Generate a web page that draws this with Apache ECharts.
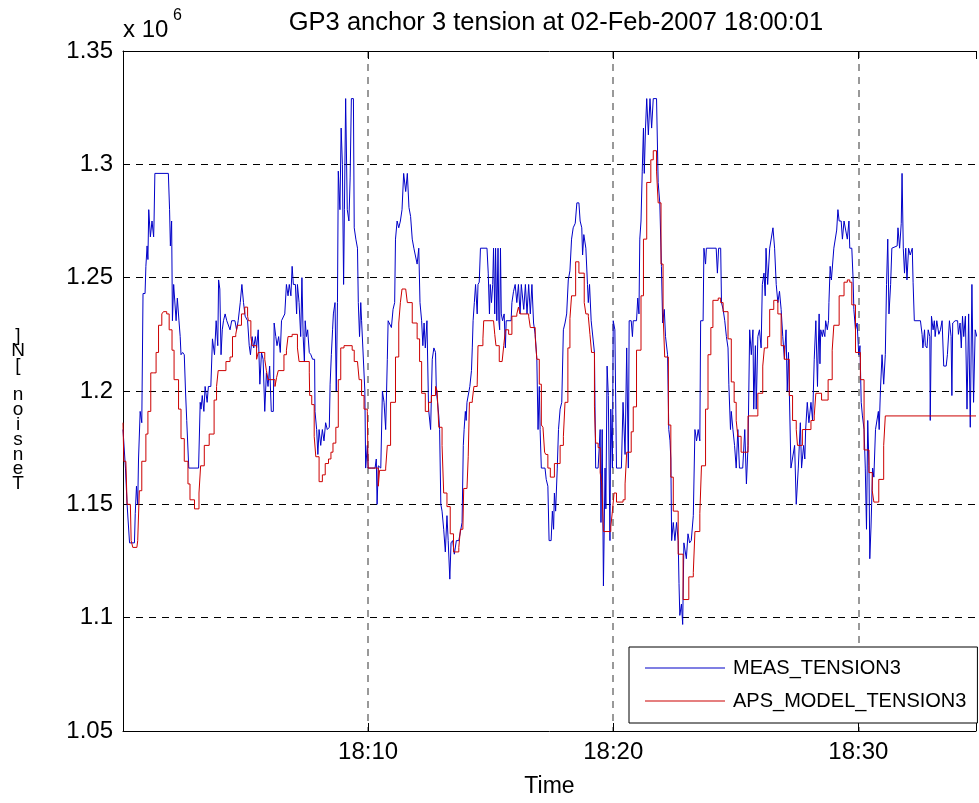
<!DOCTYPE html>
<html>
<head>
<meta charset="utf-8">
<script src="https://cdn.jsdelivr.net/npm/echarts@6/dist/echarts.min.js"></script>
<style>
html,body{margin:0;padding:0;background:#fff;}
#chart{width:979px;height:803px;}
</style>
</head>
<body>
<div id="chart"></div>
<script>
// Time in seconds after 18:00:00; tension in units of 10^6 N
const titleText = 'GP3 anchor 3 tension at 02-Feb-2007 18:00:01';
const seriesNames = ['MEAS_TENSION3', 'APS_MODEL_TENSION3'];
const xTickSeconds = [600, 1200, 1800];
const xTickLabels = ['18:10', '18:20', '18:30'];
const yTickLabels = ['1.05', '1.1', '1.15', '1.2', '1.25', '1.3', '1.35'];

const measPoints = [
[0,1.183],[4,1.183],[6,1.166],[10,1.150],[14,1.150],[16,1.133],[28,1.133],[30,1.146],[33,1.158],[36,1.150],[38,1.170],[42,1.191],[46,1.186],[49,1.243],[54,1.243],[56,1.255],[59,1.264],[61,1.258],[63,1.280],[67,1.268],[71,1.275],[75,1.268],[76,1.275],[78,1.296],[111,1.296],[114,1.280],[116,1.264],[119,1.275],[121,1.231],[124,1.247],[128,1.247],[130,1.231],[133,1.241],[137,1.231],[140,1.224],[142,1.216],[146,1.217],[150,1.216],[153,1.200],[156,1.187],[161,1.166],[185,1.166],[189,1.195],[191,1.192],[194,1.198],[198,1.191],[201,1.202],[206,1.195],[209,1.202],[215,1.202],[219,1.223],[224,1.216],[228,1.231],[232,1.220],[234,1.249],[237,1.245],[240,1.216],[243,1.227],[246,1.231],[250,1.234],[254,1.231],[262,1.227],[266,1.231],[274,1.231],[278,1.227],[282,1.231],[287,1.239],[291,1.247],[295,1.239],[299,1.233],[305,1.231],[309,1.220],[312,1.216],[316,1.224],[320,1.219],[324,1.224],[327,1.219],[331,1.227],[335,1.203],[339,1.217],[343,1.214],[347,1.191],[351,1.208],[355,1.202],[359,1.211],[363,1.191],[368,1.191],[370,1.230],[374,1.224],[377,1.220],[381,1.224],[385,1.217],[388,1.231],[396,1.234],[400,1.247],[404,1.242],
[407,1.247],[411,1.242],[414,1.255],[417,1.247],[422,1.247],[425,1.234],[427,1.247],[431,1.239],[435,1.224],[438,1.250],[441,1.224],[444,1.213],[446,1.231],[449,1.224],[452,1.227],[456,1.217],[460,1.216],[464,1.214],[469,1.214],[470,1.191],[474,1.183],[477,1.172],[480,1.183],[484,1.176],[488,1.183],[492,1.178],[496,1.186],[500,1.183],[505,1.184],[507,1.203],[510,1.216],[513,1.227],[515,1.234],[519,1.239],[522,1.200],[525,1.239],[527,1.297],[531,1.280],[534,1.316],[537,1.300],[540,1.247],[542,1.280],[545,1.329],[549,1.280],[553,1.275],[556,1.294],[559,1.329],[564,1.329],[566,1.272],[570,1.267],[574,1.263],[576,1.239],[579,1.224],[582,1.239],[584,1.231],[587,1.231],[592,1.200],[594,1.166],[598,1.176],[600,1.166],[609,1.166],[617,1.166],[620,1.170],[622,1.150],[625,1.167],[631,1.166],[635,1.200],[639,1.195],[643,1.183],[647,1.214],[649,1.231],[653,1.231],[657,1.228],[661,1.236],[665,1.239],[667,1.267],[671,1.275],[675,1.272],[679,1.275],[683,1.280],[687,1.296],[692,1.288],[696,1.296],[700,1.281],[704,1.277],[708,1.267],[712,1.263],[716,1.263],[720,1.256],[724,1.263],[727,1.239],[731,1.231],[734,1.220],[737,1.230],[740,1.219],[744,1.231],[748,1.192],[753,1.183],[757,1.214],[761,1.219],[765,1.217],[767,1.200],[770,1.195],[773,1.189],[775,1.183],[778,1.150],[781,1.147],[785,1.139],[789,1.129],[793,1.145],[796,1.134],[800,1.117],[803,1.133],[807,1.134],[811,1.128],[816,1.134],
[822,1.134],[830,1.142],[833,1.176],[835,1.183],[838,1.191],[840,1.187],[842,1.195],[846,1.195],[849,1.202],[853,1.209],[855,1.219],[857,1.231],[860,1.239],[863,1.247],[867,1.234],[869,1.247],[872,1.248],[875,1.263],[891,1.263],[894,1.252],[897,1.234],[899,1.247],[902,1.239],[905,1.247],[907,1.263],[910,1.234],[912,1.263],[915,1.231],[918,1.263],[920,1.231],[922,1.227],[924,1.263],[926,1.234],[929,1.231],[933,1.234],[936,1.219],[938,1.231],[950,1.231],[952,1.239],[956,1.244],[960,1.247],[964,1.239],[968,1.247],[972,1.234],[975,1.247],[981,1.236],[985,1.247],[989,1.234],[993,1.247],[997,1.234],[1001,1.247],[1005,1.230],[1009,1.225],[1013,1.214],[1016,1.183],[1019,1.202],[1021,1.183],[1024,1.166],[1033,1.166],[1036,1.161],[1040,1.158],[1043,1.134],[1048,1.134],[1051,1.147],[1054,1.139],[1056,1.155],[1059,1.147],[1063,1.166],[1066,1.183],[1070,1.192],[1074,1.195],[1078,1.227],[1082,1.230],[1086,1.234],[1090,1.249],[1094,1.253],[1098,1.267],[1102,1.272],[1107,1.274],[1111,1.283],[1116,1.283],[1119,1.275],[1123,1.272],[1125,1.260],[1128,1.269],[1133,1.263],[1137,1.247],[1139,1.239],[1142,1.247],[1146,1.231],[1150,1.231],[1154,1.217],[1157,1.166],[1163,1.166],[1168,1.183],[1170,1.142],[1173,1.183],[1176,1.114],[1180,1.166],[1182,1.148],[1185,1.211],[1188,1.198],[1192,1.134],[1194,1.192],[1198,1.166],[1200,1.231],[1204,1.227],[1208,1.166],[1220,1.166],[1224,1.195],[1229,1.172],[1233,1.219],
[1237,1.166],[1239,1.231],[1244,1.231],[1247,1.224],[1249,1.231],[1257,1.231],[1260,1.241],[1263,1.234],[1265,1.267],[1268,1.275],[1271,1.297],[1274,1.316],[1276,1.296],[1279,1.316],[1282,1.329],[1286,1.313],[1290,1.329],[1294,1.316],[1298,1.329],[1306,1.329],[1310,1.292],[1314,1.283],[1318,1.255],[1321,1.230],[1325,1.236],[1328,1.224],[1333,1.216],[1336,1.183],[1339,1.178],[1341,1.170],[1343,1.134],[1347,1.142],[1351,1.134],[1355,1.142],[1359,1.134],[1361,1.115],[1363,1.101],[1367,1.106],[1370,1.097],[1373,1.133],[1377,1.133],[1379,1.126],[1383,1.137],[1387,1.133],[1391,1.134],[1396,1.145],[1400,1.183],[1404,1.178],[1408,1.183],[1412,1.178],[1414,1.231],[1420,1.231],[1422,1.263],[1426,1.256],[1428,1.263],[1452,1.263],[1455,1.252],[1458,1.263],[1463,1.263],[1465,1.239],[1469,1.236],[1473,1.231],[1477,1.224],[1481,1.219],[1483,1.203],[1487,1.183],[1489,1.191],[1493,1.183],[1497,1.176],[1501,1.166],[1505,1.183],[1509,1.166],[1517,1.166],[1522,1.183],[1526,1.159],[1530,1.176],[1534,1.227],[1538,1.216],[1542,1.227],[1544,1.192],[1548,1.220],[1550,1.192],[1554,1.224],[1558,1.227],[1562,1.219],[1565,1.247],[1569,1.252],[1572,1.242],[1574,1.263],[1578,1.247],[1583,1.263],[1587,1.263],[1591,1.272],[1595,1.263],[1599,1.247],[1603,1.239],[1607,1.244],[1611,1.236],[1615,1.224],[1619,1.214],[1623,1.227],[1626,1.200],[1629,1.217],[1633,1.217],[1635,1.166],[1639,1.166],[1644,1.176],[1648,1.150],
[1651,1.150],[1653,1.166],[1658,1.186],[1661,1.166],[1666,1.176],[1669,1.170],[1671,1.183],[1675,1.195],[1679,1.186],[1684,1.195],[1688,1.187],[1692,1.214],[1696,1.231],[1700,1.202],[1701,1.212],[1704,1.234],[1706,1.212],[1708,1.227],[1712,1.224],[1714,1.227],[1718,1.224],[1720,1.231],[1724,1.227],[1727,1.231],[1728,1.239],[1731,1.255],[1734,1.249],[1736,1.249],[1740,1.263],[1744,1.263],[1747,1.271],[1750,1.280],[1753,1.275],[1758,1.275],[1761,1.267],[1765,1.275],[1769,1.275],[1773,1.267],[1777,1.275],[1779,1.263],[1784,1.263],[1787,1.250],[1789,1.236],[1793,1.227],[1797,1.230],[1801,1.216],[1804,1.220],[1807,1.195],[1810,1.189],[1814,1.183],[1817,1.166],[1820,1.139],[1823,1.187],[1826,1.167],[1828,1.126],[1831,1.140],[1835,1.166],[1838,1.162],[1842,1.183],[1846,1.183],[1849,1.191],[1851,1.183],[1854,1.200],[1858,1.216],[1862,1.203],[1866,1.216],[1869,1.247],[1872,1.267],[1875,1.234],[1879,1.247],[1882,1.263],[1895,1.264],[1897,1.272],[1901,1.263],[1905,1.274],[1907,1.296],[1910,1.263],[1913,1.252],[1916,1.263],[1919,1.249],[1923,1.263],[1927,1.260],[1932,1.263],[1934,1.248],[1937,1.231],[1952,1.231],[1956,1.225],[1958,1.219],[1962,1.227],[1964,1.220],[1968,1.219],[1971,1.227],[1975,1.224],[1976,1.187],[1979,1.233],[1983,1.227],[1986,1.231],[1988,1.224],[1992,1.231],[1997,1.225],[2001,1.227],[2005,1.231],[2009,1.211],[2015,1.211],[2018,1.216],[2023,1.231],[2027,1.224],[2029,1.198],[2031,1.230],[2037,1.231],[2043,1.231],[2045,1.225],[2049,1.230],[2052,1.219],[2055,1.233],[2058,1.224],[2062,1.233],[2066,1.192],[2070,1.234],[2074,1.184],[2078,1.247],[2082,1.195],[2086,1.227],[2090,1.224]
];

const modelPoints = [
[0,1.186],[2,1.169],[7,1.169],[10,1.150],[18,1.150],[20,1.134],[24,1.131],[34,1.131],[36,1.134],[40,1.156],[46,1.169],[56,1.181],[61,1.191],[68,1.208],[74,1.208],[81,1.217],[87,1.229],[95,1.234],[99,1.235],[107,1.234],[113,1.227],[120,1.218],[125,1.205],[136,1.192],[142,1.179],[150,1.169],[159,1.159],[164,1.152],[175,1.148],[186,1.155],[190,1.167],[199,1.176],[211,1.181],[223,1.196],[229,1.202],[233,1.209],[252,1.213],[262,1.215],[268,1.224],[276,1.225],[280,1.229],[290,1.234],[298,1.237],[305,1.233],[307,1.231],[313,1.224],[316,1.220],[327,1.214],[331,1.217],[347,1.214],[351,1.209],[355,1.205],[372,1.202],[376,1.206],[380,1.209],[394,1.216],[400,1.218],[404,1.224],
[414,1.225],[427,1.219],[431,1.213],[456,1.208],[457,1.198],[462,1.194],[468,1.180],[472,1.171],[480,1.160],[488,1.163],[495,1.168],[503,1.170],[509,1.173],[514,1.177],[521,1.184],[527,1.205],[533,1.219],[541,1.220],[561,1.218],[566,1.213],[574,1.213],[578,1.205],[584,1.198],[590,1.192],[598,1.191],[600,1.166],[620,1.166],[625,1.158],[628,1.165],[643,1.166],[647,1.176],[655,1.195],[667,1.215],[675,1.230],[679,1.239],[683,1.245],[692,1.245],[696,1.239],[708,1.230],[720,1.223],[726,1.213],[731,1.199],[740,1.191],[748,1.195],[755,1.198],[765,1.202],[769,1.200],[773,1.184],[781,1.176],[785,1.155],[793,1.149],[801,1.137],[809,1.129],
[822,1.131],[826,1.139],[832,1.140],[834,1.157],[842,1.157],[845,1.171],[848,1.195],[855,1.196],[859,1.202],[867,1.203],[869,1.220],[881,1.223],[883,1.231],[907,1.231],[910,1.225],[913,1.220],[921,1.213],[928,1.213],[932,1.220],[936,1.227],[944,1.225],[952,1.233],[964,1.234],[968,1.237],[972,1.234],[993,1.233],[997,1.228],[1009,1.224],[1013,1.214],[1019,1.203],[1024,1.185],[1028,1.184],[1032,1.173],[1035,1.172],[1040,1.166],[1046,1.162],[1056,1.168],[1070,1.176],[1078,1.180],[1082,1.195],[1089,1.219],[1094,1.232],[1098,1.242],[1108,1.257],[1116,1.252],[1129,1.239],[1133,1.234],[1139,1.233],[1143,1.225],[1147,1.217],[1154,1.193],[1157,1.177],[1163,1.175],[1168,1.164],[1172,1.159],[1176,1.138],[1194,1.140],[1198,1.147],[1202,1.155],[1208,1.151],[1224,1.152],[1229,1.159],[1233,1.173],
[1244,1.182],[1249,1.193],[1257,1.218],[1268,1.242],[1274,1.267],[1282,1.292],[1292,1.302],[1298,1.306],[1306,1.297],[1310,1.283],[1317,1.256],[1322,1.234],[1326,1.215],[1335,1.185],[1341,1.162],[1347,1.147],[1359,1.128],[1371,1.108],[1385,1.118],[1396,1.120],[1400,1.138],[1412,1.146],[1416,1.167],[1426,1.192],[1432,1.216],[1439,1.228],[1444,1.240],[1457,1.241],[1463,1.239],[1469,1.235],[1481,1.223],[1489,1.204],[1496,1.195],[1501,1.187],[1505,1.180],[1513,1.173],[1530,1.189],[1554,1.199],[1566,1.211],[1570,1.219],[1578,1.224],[1583,1.236],[1593,1.240],[1603,1.234],[1611,1.220],[1619,1.214],[1631,1.198],[1639,1.187],[1648,1.183],
[1651,1.176],[1663,1.183],[1684,1.187],[1692,1.189],[1696,1.199],[1710,1.196],[1726,1.205],[1736,1.218],[1740,1.229],[1753,1.242],[1765,1.248],[1773,1.249],[1779,1.248],[1784,1.238],[1793,1.217],[1805,1.205],[1814,1.174],[1826,1.164],[1834,1.156],[1838,1.151],[1850,1.161],[1862,1.176],[1866,1.189],[2088,1.189]
];

const FONT = '"Liberation Sans", Arial, Helvetica, sans-serif';
const chart = echarts.init(document.getElementById('chart'), null, {renderer: 'canvas'});

const yLabelChars = 'Tension [N]'.split('').reverse().join('\n');

const option = {
  animation: false,
  backgroundColor: '#ffffff',
  textStyle: {fontFamily: FONT, color: '#000'},
  title: {
    text: titleText,
    left: 551,
    top: 5,
    textAlign: 'center',
    textStyle: {fontFamily: FONT, fontSize: 25.5, fontWeight: 'normal', color: '#000'}
  },
  grid: {left: 123, top: 51, right: 0, bottom: 68, containLabel: false},
  legend: {
    orient: 'vertical',
    left: 629,
    top: 647,
    padding: [10, 11, 11, 16],
    itemGap: 11,
    itemWidth: 80,
    itemHeight: 1,
    backgroundColor: '#fff',
    borderColor: '#000',
    borderWidth: 1,
    textStyle: {fontFamily: FONT, fontSize: 20, lineHeight: 22, color: '#000', padding: [0, 0, 0, 3]},
    data: [
      {name: seriesNames[0], icon: 'rect'},
      {name: seriesNames[1], icon: 'rect'}
    ]
  },
  xAxis: [{
    type: 'value',
    min: 0, max: 2088, interval: 600,
    position: 'bottom',
    name: 'Time',
    nameLocation: 'middle',
    nameGap: 44,
    nameTextStyle: {fontFamily: FONT, fontSize: 23, color: '#000'},
    axisLine: {show: true, onZero: false, lineStyle: {color: '#000', width: 1}},
    axisTick: {show: true, inside: true, length: 8, lineStyle: {color: '#000'}},
    axisLabel: {
      fontFamily: FONT, fontSize: 24, color: '#000', margin: 9,
      showMinLabel: true, showMaxLabel: true,
      formatter: function (v) {
        const i = xTickSeconds.indexOf(Math.round(v));
        return i >= 0 ? xTickLabels[i] : '';
      }
    },
    splitLine: {show: true, showMinLine: false, showMaxLine: false, lineStyle: {color: '#808080', width: 1.6, type: [7, 6]}}
  }, {
    type: 'value',
    min: 0, max: 2088, interval: 600,
    position: 'top',
    axisLine: {show: true, onZero: false, lineStyle: {color: '#000', width: 1}},
    axisTick: {show: true, inside: true, length: 8, lineStyle: {color: '#000'}},
    axisLabel: {show: false},
    splitLine: {show: false}
  }],
  yAxis: [{
    type: 'value',
    min: 1.05, max: 1.35, interval: 0.05,
    axisLine: {show: true, onZero: false, lineStyle: {color: '#000', width: 1}},
    axisTick: {show: true, inside: true, length: 6, lineStyle: {color: '#000'}},
    axisLabel: {
      fontFamily: FONT, fontSize: 24, color: '#000', margin: 10,
      formatter: function (v) {
        const s = String(Math.round(v * 100) / 100);
        return yTickLabels.indexOf(s) >= 0 ? s : '';
      }
    },
    splitLine: {show: true, showMinLine: false, showMaxLine: false, lineStyle: {color: '#000', width: 1, type: [7, 6]}}
  }],
  graphic: [
    {type: 'text', left: 123, top: 18, style: {text: 'x 10', font: '24px ' + FONT, fill: '#000'}},
    {type: 'text', left: 173, top: 8, style: {text: '6', font: '16px ' + FONT, fill: '#000'}},
    {type: 'text', x: 18, y: 410, style: {text: yLabelChars, font: '19px ' + FONT, fill: '#000', align: 'center', verticalAlign: 'middle', lineHeight: 14.8}}
  ],
  series: [{
    name: seriesNames[0],
    type: 'line',
    color: '#0000c8',
    showSymbol: false,
    symbol: 'none',
    lineStyle: {color: '#0000c8', width: 1},
    data: measPoints,
    z: 2
  }, {
    name: seriesNames[1],
    type: 'line',
    color: '#cc0000',
    showSymbol: false,
    symbol: 'none',
    step: 'end',
    lineStyle: {color: '#cc0000', width: 1},
    data: modelPoints,
    z: 3
  }]
};
chart.setOption(option);
</script>
</body>
</html>
